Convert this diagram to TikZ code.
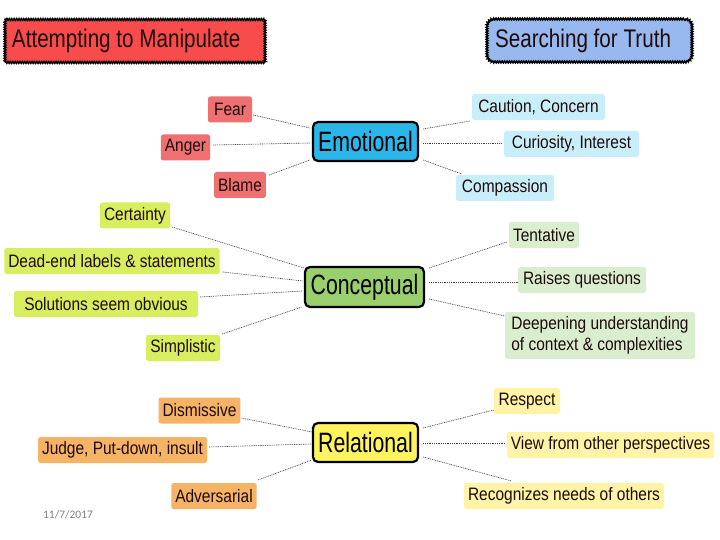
\documentclass[tikz,border=0pt]{standalone}
\usepackage{fontspec}
\setmainfont{Liberation Sans}
\newfontfamily\leaffont[FakeStretch=0.86]{Liberation Sans}
\newfontfamily\titlefont[FakeStretch=0.81]{Liberation Sans}
\newfontfamily\hubfont[FakeStretch=0.76]{Liberation Sans}
\newfontfamily\datefont{Carlito}
\usetikzlibrary{calc,decorations.pathmorphing}
\definecolor{titlered}{HTML}{F84C4C}
\definecolor{titleblue}{HTML}{98B8F0}
\definecolor{leafred}{HTML}{EF7070}
\definecolor{emocyan}{HTML}{2BB6EA}
\definecolor{leafcyan}{HTML}{C8EEF9}
\definecolor{leaflime}{HTML}{D9EE5E}
\definecolor{congreen}{HTML}{9ACF6E}
\definecolor{leafgreen}{HTML}{D9EDCF}
\definecolor{leaforange}{HTML}{F5B366}
\definecolor{relyellow}{HTML}{FFF35E}
\definecolor{leafyellow}{HTML}{FFF3A6}
\definecolor{darktext}{HTML}{1E0A0A}
\begin{document}
\begin{tikzpicture}[x=1pt,y=-1pt,
  titlebox/.style={postaction={draw=black,line width=1.5pt,sharp corners,decorate,decoration={zigzag,segment length=2.4pt,amplitude=0.9pt}},
    font=\titlefont\fontsize{25.5}{28}\selectfont,text=darktext,inner xsep=7pt,inner ysep=0pt,minimum height=43pt},
  leaf/.style={rounded corners=2.5pt,inner xsep=4pt,inner ysep=0pt,minimum height=26pt,
    font=\leaffont\fontsize{18}{20.5}\selectfont,text=darktext},
  hub/.style={draw=black,line width=2.2pt,rounded corners=5pt,inner sep=0pt,
    font=\hubfont\fontsize{28}{30}\selectfont,text=black},
  link/.style={draw=black!75,line width=0.6pt,dash pattern=on 1pt off 0.8pt}
]
\fill[white] (0,0) rectangle (720,540);
\useasboundingbox (0,0) rectangle (720,540);

% titles
\node[titlebox,fill=titlered] (tred) at (135,41) {\makebox[246pt][l]{Attempting to Manipulate}};
\node[titlebox,fill=titleblue,rounded corners=7pt,inner xsep=8pt] (tblue) at (589.5,40.5) {\makebox[189pt][l]{Searching for Truth}};

% hubs
\node[hub,fill=emocyan,minimum width=105pt,minimum height=39pt] (emo) at (365.5,141.5) {Emotional};
\node[hub,fill=congreen,minimum width=119pt,minimum height=40pt] (con) at (364.5,287) {Conceptual};
\node[hub,fill=relyellow,minimum width=105pt,minimum height=39pt] (rel) at (365.5,442.5) {Relational};

% emotional leaves
\node[leaf,fill=leafred,minimum width=44pt] (fear) at (230,109.5) {Fear};
\node[leaf,fill=leafred,minimum width=47pt] (anger) at (185.5,147.5) {Anger};
\node[leaf,fill=leafred,minimum width=50pt] (blame) at (240,185) {Blame};
\node[leaf,fill=leafcyan,minimum width=133pt] (caution) at (538.5,107) {Caution, Concern};
\node[leaf,fill=leafcyan,minimum width=135pt] (curio) at (571.5,144) {Curiosity, Interest};
\node[leaf,fill=leafcyan,minimum width=98pt] (compa) at (505,188) {Compassion};

% conceptual leaves
\node[leaf,fill=leaflime,minimum width=70pt] (cert) at (135,215.5) {Certainty};
\node[leaf,fill=leaflime,minimum width=214pt] (dead) at (112,261) {Dead-end labels \& statements};
\node[leaf,fill=leaflime,minimum width=184pt] (solu) at (106,304) {Solutions seem obvious};
\node[leaf,fill=leaflime,minimum width=74pt] (simp) at (183,348) {Simplistic};
\node[leaf,fill=leafgreen,minimum width=68pt] (tent) at (544,235) {Tentative};
\node[leaf,fill=leafgreen,minimum width=128pt] (raise) at (582,280) {Raises questions};
\node[leaf,fill=leafgreen,minimum width=190pt,minimum height=47pt,align=left] (deep) at (600,335.5) {Deepening understanding\\of context \& complexities};

% relational leaves
\node[leaf,fill=leaforange,minimum width=79pt] (dism) at (199.5,410.5) {Dismissive};
\node[leaf,fill=leaforange,minimum width=169pt] (judge) at (122.5,450) {Judge, Put-down, insult};
\node[leaf,fill=leaforange,minimum width=84pt] (adv) at (214,496) {Adversarial};
\node[leaf,fill=leafyellow,minimum width=66pt] (resp) at (527,401) {Respect};
\node[leaf,fill=leafyellow,minimum width=207pt] (view) at (610.5,445) {View from other perspectives};
\node[leaf,fill=leafyellow,minimum width=200pt] (recog) at (564,496) {Recognizes needs of others};

% date
\node[font=\datefont\fontsize{11.5}{13}\selectfont,text=black!50] (date) at (68,515) {11/7/2017};

% connectors: emotional
\draw[link] ($(fear.east)+(1,5.5)$) -- ($(emo.west)+(-2,-13.5)$);
\draw[link] ($(anger.east)+(3,-2.5)$) -- ($(emo.west)+(-2,1.5)$);
\draw[link] ($(blame.east)+(3,-10)$) -- ($(emo.west)+(-2,18.5)$);
\draw[link] ($(emo.east)+(4,-12.5)$) -- ($(caution.west)+(-2,14)$);
\draw[link] ($(emo.east)+(4,1.5)$) -- ($(curio.west)+(-2,-1)$);
\draw[link] ($(emo.east)+(4,18.5)$) -- ($(compa.west)+(6,-14)$);

% connectors: conceptual
\draw[link] ($(cert.east)+(2,11.5)$) -- ($(con.west)+(0,-19)$);
\draw[link] ($(dead.east)+(3,11)$) -- ($(con.west)+(-1,-6)$);
\draw[link] ($(solu.east)+(2,-7)$) -- ($(con.west)+(-2,4)$);
\draw[link] ($(simp.east)+(2,-14)$) -- ($(con.west)+(-2,20)$);
\draw[link] ($(con.east)+(4,-19)$) -- ($(tent.west)+(-2,7)$);
\draw[link] ($(con.east)+(4,-5)$) -- ($(raise.west)+(0,2)$);
\draw[link] ($(con.east)+(4,12)$) -- ($(deep.west)+(0,-19.5)$);

% connectors: relational
\draw[link] ($(dism.east)+(1,7.5)$) -- ($(rel.west)+(0,-10.5)$);
\draw[link] ($(judge.east)+(2,-3)$) -- ($(rel.west)+(0,1.5)$);
\draw[link] ($(adv.east)+(1,-16)$) -- ($(rel.west)+(0,17.5)$);
\draw[link] ($(rel.east)+(4,-14.5)$) -- ($(resp.west)+(0,9)$);
\draw[link] ($(rel.east)+(4,0.5)$) -- ($(view.west)+(-1,-2)$);
\draw[link] ($(rel.east)+(4,14.5)$) -- ($(recog.north west)+(47,-2)$);
\end{tikzpicture}
\end{document}
